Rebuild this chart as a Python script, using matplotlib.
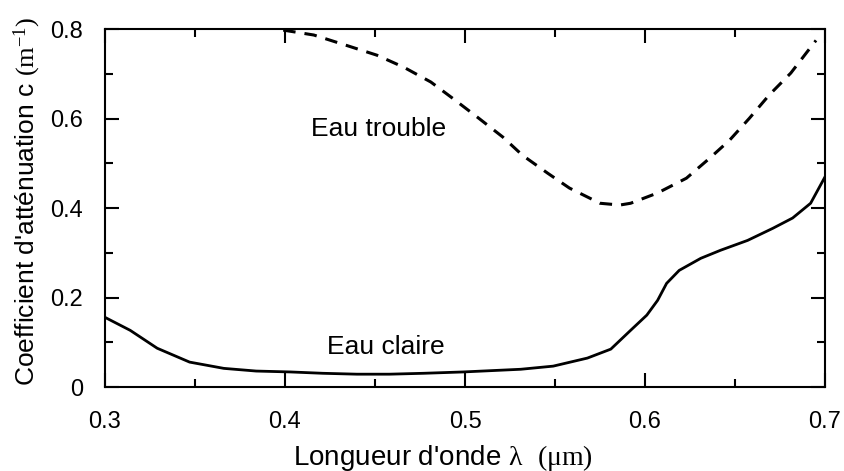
import matplotlib
matplotlib.use("Agg")
import matplotlib.pyplot as plt
import matplotlib.ticker as ticker

plt.rcParams['font.family'] = ['Liberation Sans', 'DejaVu Sans']
plt.rcParams['mathtext.fontset'] = 'custom'
plt.rcParams['mathtext.rm'] = 'Liberation Serif'
plt.rcParams['mathtext.it'] = 'Liberation Serif:italic'
plt.rcParams['lines.scale_dashes'] = False

# eau claire (solid)
wl_claire = [0.300, 0.314, 0.329, 0.347, 0.366, 0.384, 0.403, 0.421, 0.440, 0.458,
             0.477, 0.499, 0.531, 0.549, 0.568, 0.581, 0.592, 0.601, 0.607, 0.612,
             0.619, 0.631, 0.642, 0.657, 0.671, 0.682, 0.692, 0.700]
c_claire = [0.156, 0.127, 0.087, 0.056, 0.042, 0.036, 0.034, 0.031, 0.029, 0.029,
            0.031, 0.034, 0.040, 0.047, 0.065, 0.085, 0.127, 0.161, 0.194, 0.232,
            0.261, 0.288, 0.306, 0.328, 0.355, 0.378, 0.411, 0.470]

# eau trouble (dashed)
wl_trouble = [0.399, 0.416, 0.434, 0.451, 0.466, 0.481, 0.493, 0.507, 0.521, 0.532,
              0.546, 0.558, 0.575, 0.586, 0.592, 0.607, 0.623, 0.636, 0.647, 0.658,
              0.669, 0.681, 0.690, 0.695]
c_trouble = [0.798, 0.787, 0.764, 0.742, 0.715, 0.682, 0.646, 0.603, 0.559, 0.518,
             0.478, 0.445, 0.411, 0.407, 0.411, 0.434, 0.467, 0.512, 0.552, 0.601,
             0.653, 0.702, 0.749, 0.775]

yticks = [0, 0.2, 0.4, 0.6, 0.8]
ytick_labels = ['0', '0.2', '0.4', '0.6', '0.8']
xticks = [0.3, 0.4, 0.5, 0.6, 0.7]
xtick_labels = ['0.3', '0.4', '0.5', '0.6', '0.7']

fig = plt.figure(figsize=(8.44, 4.71), dpi=100)
ax = fig.add_axes([0.1244, 0.178, 0.8531, 0.760])

ax.plot(wl_claire, c_claire, color='black', lw=2.0, solid_joinstyle='round')
ax.plot(wl_trouble, c_trouble, color='black', lw=2.2, dashes=(9, 6.5))

ax.text(0.452, 0.578, 'Eau trouble', fontsize=19, ha='center', va='center')
ax.text(0.456, 0.089, 'Eau claire', fontsize=19, ha='center', va='center')

ax.set_xlim(0.3, 0.7)
ax.set_ylim(0, 0.8)
ax.set_xticks(xticks)
ax.set_xticklabels(xtick_labels)
ax.set_yticks(yticks)
ax.set_yticklabels(ytick_labels)
ax.xaxis.set_minor_locator(ticker.MultipleLocator(0.05))
ax.yaxis.set_minor_locator(ticker.MultipleLocator(0.1))
ax.tick_params(which='both', direction='in', top=True, right=True, width=1.5,
               labelsize=17)
ax.tick_params(axis='x', which='major', length=10, pad=17)
ax.tick_params(axis='y', which='major', length=10, pad=16)
ax.tick_params(which='minor', length=6)
for s in ax.spines.values():
    s.set_linewidth(1.5)

ax.set_xlabel(r"Longueur d'onde $\mathrm{\lambda}$  $\mathrm{(\mu m)}$", fontsize=20)
ax.set_ylabel(r"Coefficient d'atténuation c $\mathrm{(m^{-1})}$", fontsize=19)
ax.xaxis.set_label_coords(0.469, -0.155)
ax.yaxis.set_label_coords(-0.086, 0.52)

fig.savefig('out.png', dpi=100)
